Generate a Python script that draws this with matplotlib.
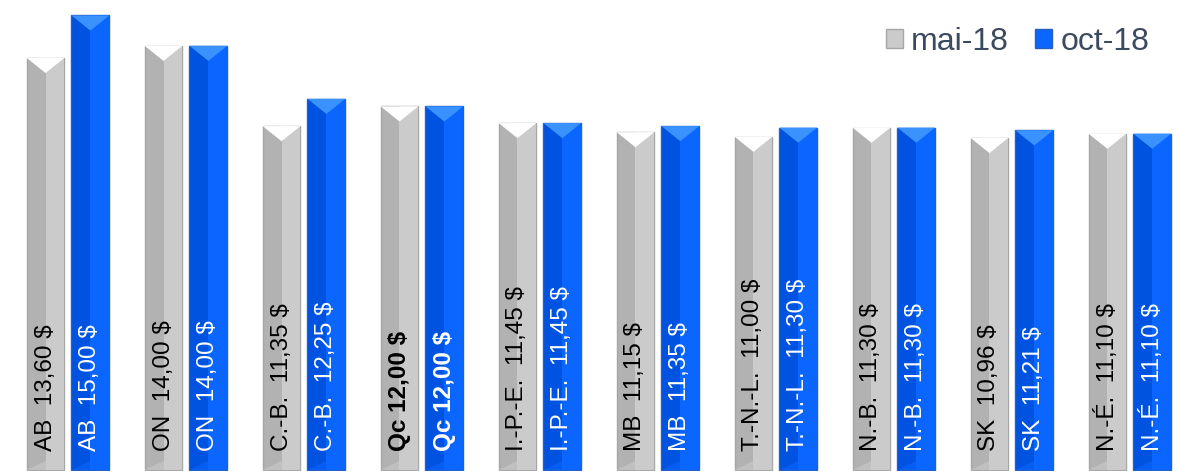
import matplotlib
matplotlib.use('Agg')
import matplotlib.pyplot as plt
from matplotlib.patches import Polygon, Patch

plt.rcParams['font.family'] = ['Liberation Sans', 'DejaVu Sans']

provinces = ['AB', 'ON', 'C.-B.', 'Qc', 'I.-P.-E.', 'MB', 'T.-N.-L.', 'N.-B.', 'SK', 'N.-É.']
mai_18 = [13.60, 14.00, 11.35, 12.00, 11.45, 11.15, 11.00, 11.30, 10.96, 11.10]
oct_18 = [15.00, 14.00, 12.25, 12.00, 11.45, 11.35, 11.30, 11.30, 11.21, 11.10]
series_names = ['mai-18', 'oct-18']

# couleurs: (moitié gauche, moitié droite, triangle du haut, bordure, texte)
gray_style = ('#b2b2b2', '#cbcbcb', '#ffffff', '#a6a6a6', 'black')
blue_style = ('#0052e0', '#0a66ff', '#3a92ff', '#2a5fc0', 'white')

width = 0.32
offset = 0.19
bevel = 0.5


def fmt(v):
    return f'{v:.2f}'.replace('.', ',')


def draw_bars(ax, xs, values, style):
    left, right, top, edge, txt = style
    ax.bar(xs, values, width, color=left, edgecolor=edge, linewidth=1.0, zorder=2)
    ax.bar(xs, values, width / 2, align='edge', color=right,
           linewidth=0, zorder=3)
    for x, v in zip(xs, values):
        x0, x1 = x - width / 2, x + width / 2
        tri = Polygon([(x0, v), (x1, v), (x, v - bevel)], closed=True,
                      facecolor=top, edgecolor='none', zorder=4)
        ax.add_patch(tri)
        bot = Polygon([(x0, 0), (x1, 0), (x, bevel * 0.6)], closed=True,
                      facecolor=right, edgecolor='none', alpha=0.6, zorder=4)
        ax.add_patch(bot)


fig = plt.figure(figsize=(11.77, 4.71), dpi=100)
ax = fig.add_axes([0, 0, 1, 1])

xs = list(range(len(provinces)))
gx = [x - offset for x in xs]
bx = [x + offset for x in xs]
draw_bars(ax, gx, mai_18, gray_style)
draw_bars(ax, bx, oct_18, blue_style)

for i, p in enumerate(provinces):
    bold = 'bold' if p == 'Qc' else 'normal'
    sep = ' ' if p == 'Qc' else '  '
    ax.text(gx[i], 0.62, f'{p}{sep}{fmt(mai_18[i])} $', rotation=90,
            ha='center', va='bottom', fontsize=17.5, color=gray_style[4],
            fontweight=bold, zorder=5)
    ax.text(bx[i], 0.62, f'{p}{sep}{fmt(oct_18[i])} $', rotation=90,
            ha='center', va='bottom', fontsize=17.5, color=blue_style[4],
            fontweight=bold, zorder=5)

ax.set_xlim(-0.576, 9.40)
ax.set_ylim(-0.03, 15.51)
ax.axis('off')

handles = [Patch(facecolor=gray_style[1], edgecolor=gray_style[3]),
           Patch(facecolor=blue_style[1], edgecolor=blue_style[3])]
leg = ax.legend(handles, series_names, loc='upper right', frameon=False,
                bbox_to_anchor=(1165 / 1177, 1 - 11 / 471), ncol=2,
                fontsize=23, handlelength=0.55, handleheight=0.55,
                handletextpad=0.25, columnspacing=0.8, borderpad=0)
for t in leg.get_texts():
    t.set_color('#3b4a5e')

fig.savefig('out.png', dpi=100)
